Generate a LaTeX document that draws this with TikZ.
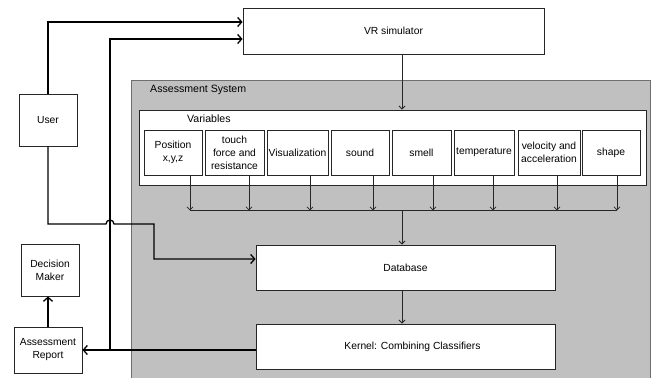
\documentclass[tikz,border=0pt]{standalone}
\usepackage{fontspec}
\setmainfont{Liberation Sans}
\usetikzlibrary{arrows.meta}
\definecolor{sysgray}{RGB}{192,192,192}
\definecolor{edgegray}{RGB}{110,110,110}
\begin{document}
\begin{tikzpicture}[x=1pt,y=-1pt,
  box/.style={draw=black!85,line width=0.9pt,fill=white,inner sep=1pt,align=center,
    font=\fontsize{10.3}{13}\selectfont},
  thickarrow/.style={line width=1.3pt,-{Straight Barb[length=4pt,width=9pt,line width=1.3pt]}},
  thinarrow/.style={line width=0.8pt,black!85,-{Straight Barb[length=3pt,width=6pt,line width=0.8pt]}},
  lbl/.style={font=\fontsize{10.6}{12}\selectfont,inner sep=0pt}]
\useasboundingbox (0,0) rectangle (655,377);
% assessment system background
\fill[sysgray] (131,80) rectangle (650,380);
\draw[edgegray,line width=0.9pt] (131,380) -- (131,80) -- (650,80) -- (650,380);
\node[lbl,anchor=west] (astitle) at (150,90) {Assessment System};
% variables container
\node[draw=black!85,line width=0.9pt,fill=white,minimum width=507pt,minimum height=75pt,inner sep=0pt] (vars) at (392.5,147.5) {};
\node[lbl,anchor=west] (varstitle) at (187,119) {Variables};
% boxes
\node[box,minimum width=301pt,minimum height=46pt] (vr) at (393.5,31) {VR simulator};
\node[box,minimum width=58pt,minimum height=45pt] (pos) at (173,152.5) {Position\\x,y,z};
\node[box,minimum width=59pt,minimum height=45pt] (touch) at (234.5,152.5) {touch\\force and\\resistance};
\node[box,minimum width=61pt,minimum height=45pt] (vis) at (297.5,152.5) {Visualization};
\node[box,minimum width=58pt,minimum height=45pt] (sound) at (360,152.5) {sound};
\node[box,minimum width=59pt,minimum height=45pt] (smell) at (421.5,152.5) {smell};
\node[box,minimum width=60pt,minimum height=45pt] (temp) at (484,152.5) {temperature};
\node[box,minimum width=62pt,minimum height=45pt] (vel) at (549,152.5) {velocity and\\acceleration};
\node[box,minimum width=58pt,minimum height=45pt] (shape) at (611,152.5) {shape};
\node[box,minimum width=299pt,minimum height=45pt] (db) at (405.5,267.5) {Database};
\node[box,minimum width=299pt,minimum height=45pt] (kernel) at (405.5,346.5) {\hspace{14pt}Kernel: Combining Classifiers};
\node[box,minimum width=58pt,minimum height=52pt] (user) at (48,120) {User};
\node[box,minimum width=58pt,minimum height=52pt] (dm) at (50,270) {Decision\\Maker};
\node[box,minimum width=68pt,minimum height=46pt] (ar) at (48,350) {Assessment\\Report};
% variable arrows to bus
\coordinate (busL) at (190,210);
\coordinate (busR) at (617,210);
\coordinate (busM) at (402,210);
\draw[thinarrow] ([xshift=17pt]pos.south) -- ++(0,35);
\draw[thinarrow] ([xshift=14.5pt]touch.south) -- ++(0,35);
\draw[thinarrow] ([xshift=12.5pt]vis.south) -- ++(0,35);
\draw[thinarrow] ([xshift=13pt]sound.south) -- ++(0,35);
\draw[thinarrow] ([xshift=11.5pt]smell.south) -- ++(0,35);
\draw[thinarrow] ([xshift=9pt]temp.south) -- ++(0,35);
\draw[thinarrow] ([xshift=8pt]vel.south) -- ++(0,35);
\draw[thinarrow] ([xshift=6pt]shape.south) -- ++(0,35);
\draw[line width=0.8pt,black!85] (busL) -- (busR);
% vr to variables
\draw[thinarrow] (vr.south -| busM) -- (vars.north -| busM);
% bus to database, database to kernel
\draw[thinarrow] (busM) -- (db.north -| busM);
\draw[thinarrow] (db.south -| busM) -- (kernel.north -| busM);
% user to vr
\draw[thickarrow] (user.north) |- ([yshift=9pt]vr.west);
% kernel to report, feedback to vr
\coordinate (fb) at (110,350);
\draw[thickarrow] (kernel.west |- ar.east) -- (ar.east);
\draw[thickarrow] (fb) |- ([yshift=-8pt]vr.west);
% user to database with hop
\draw[thickarrow] (user.south) |- (106,224) arc[start angle=180,end angle=0,radius=4pt] -- (154,224) |- ([yshift=8.5pt]db.west);
% report to decision maker
\draw[thickarrow] (ar.north) -- (ar.north |- dm.south);
\end{tikzpicture}
\end{document}
